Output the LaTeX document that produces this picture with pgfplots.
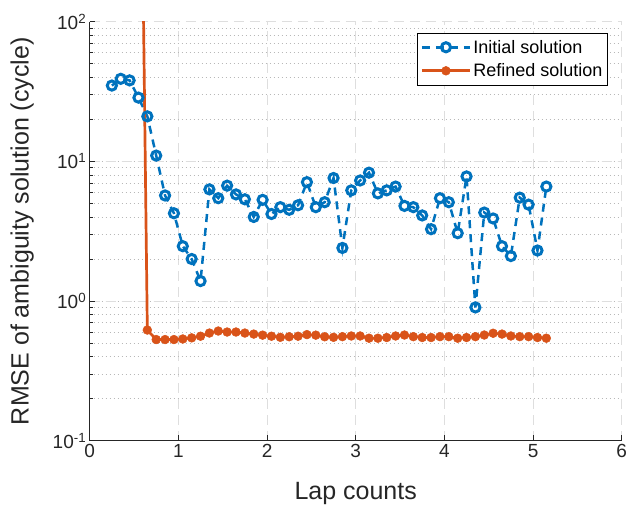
\documentclass[border=0pt]{standalone}
\usepackage{fontspec}
\setmainfont{Liberation Sans}
\usepackage{pgfplots}
\pgfplotsset{compat=1.18}
\definecolor{mblue}{RGB}{0,114,189}
\definecolor{morange}{RGB}{217,83,25}
\definecolor{axgray}{RGB}{38,38,38}
\begin{document}
\begin{tikzpicture}
\begin{axis}[
  scale only axis, width=532pt, height=419pt,
  xmin=0, xmax=6, ymin=0.1, ymax=100, ymode=log,
  axis x line*=bottom, axis y line*=left,
  axis line style={axgray, line width=0.6pt},
  xtick={0,1,2,3,4,5,6},
  ytick={0.1,1,10,100},
  yticklabels={10\textsuperscript{-1},10\textsuperscript{0},10\textsuperscript{1},10\textsuperscript{2}},
  tick align=inside,
  major tick length=5.5pt, minor tick length=3pt,
  tick style={axgray, line width=0.6pt},
  grid=both,
  major grid style={dash pattern=on 10pt off 6pt, black!13, line width=0.7pt},
  minor grid style={dash pattern=on 1pt off 3pt, black!28, line width=0.6pt},
  ticklabel style={font=\fontsize{19}{19}\selectfont, text=axgray},
  /pgf/number format/assume math mode=true,
  label style={font=\fontsize{25}{25}\selectfont, text=axgray},
  xlabel={Lap counts},
  ylabel={RMSE of ambiguity solution (cycle)},
  xlabel style={at={(axis description cs:0.5,-0.126)}, anchor=center},
  ylabel style={at={(axis description cs:-0.127,0.5)}, anchor=center},
  legend style={at={(axis description cs:1,1)}, anchor=north east,
    xshift=-14pt, yshift=-11pt, draw=black, line width=0.6pt,
    font=\fontsize{18}{18}\selectfont, inner xsep=3pt, inner ysep=5pt, row sep=5pt},
  legend cell align=left,
  legend image code/.code={\draw[mark repeat=2, mark phase=2, #1] plot coordinates {(0pt,0pt) (24pt,0pt) (48pt,0pt)};},
]
\addplot[color=mblue, line width=2.5pt, dash pattern=on 8pt off 6pt, mark=o, mark size=4.6pt,
  mark options={solid, line width=3pt}] coordinates {
(0.25,34.9) (0.35,39) (0.45,38) (0.55,28.6) (0.65,21) (0.75,11) (0.85,5.7) (0.95,4.25)
(1.05,2.47) (1.15,2.0) (1.25,1.39) (1.35,6.3) (1.45,5.45) (1.55,6.7) (1.65,5.8) (1.75,5.35)
(1.85,4.0) (1.95,5.3) (2.05,4.2) (2.15,4.7) (2.25,4.5) (2.35,4.85) (2.45,7.1) (2.55,4.7)
(2.65,5.1) (2.75,7.6) (2.85,2.4) (2.95,6.2) (3.05,7.3) (3.15,8.3) (3.25,5.9) (3.35,6.2)
(3.45,6.6) (3.55,4.8) (3.65,4.7) (3.75,4.1) (3.85,3.27) (3.95,5.45) (4.05,5.1) (4.15,3.06)
(4.25,7.8) (4.35,0.9) (4.45,4.3) (4.55,3.9) (4.65,2.47) (4.75,2.1) (4.85,5.5) (4.95,4.9)
(5.05,2.3) (5.15,6.6)
};
\addlegendentry{Initial solution}
\addplot[color=morange, line width=2.7pt, mark=*, mark size=4.4pt,
  mark options={solid, line width=0.5pt}] coordinates {
(0.55,100000) (0.65,0.62) (0.75,0.53) (0.85,0.53) (0.95,0.53) (1.05,0.535) (1.15,0.545)
(1.25,0.56) (1.35,0.59) (1.45,0.61) (1.55,0.60) (1.65,0.60) (1.75,0.59) (1.85,0.58)
(1.95,0.57) (2.05,0.56) (2.15,0.55) (2.25,0.555) (2.35,0.56) (2.45,0.575) (2.55,0.57)
(2.65,0.555) (2.75,0.55) (2.85,0.556) (2.95,0.562) (3.05,0.562) (3.15,0.542) (3.25,0.542)
(3.35,0.548) (3.45,0.562) (3.55,0.571) (3.65,0.556) (3.75,0.548) (3.85,0.548) (3.95,0.556)
(4.05,0.556) (4.15,0.542) (4.25,0.548) (4.35,0.556) (4.45,0.571) (4.55,0.588) (4.65,0.58)
(4.75,0.562) (4.85,0.556) (4.95,0.556) (5.05,0.548) (5.15,0.542)
};
\addlegendentry{Refined solution}
\end{axis}
\pgfresetboundingbox
\path ([xshift=-89.7pt, yshift=-66.3pt]current axis.south west) rectangle ([xshift=5.3pt, yshift=21.7pt]current axis.north east);
\end{tikzpicture}
\end{document}
